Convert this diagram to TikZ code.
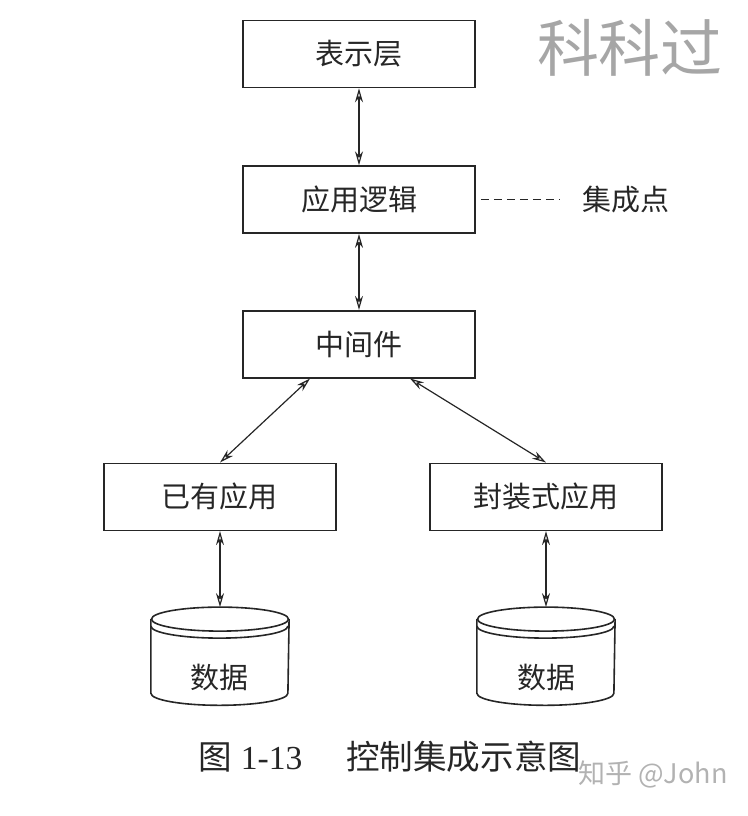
\documentclass[tikz,border=0pt]{standalone}
\usepackage{fontspec}
\setmainfont{Liberation Serif}
\newfontfamily\cjk{Noto Sans CJK SC}
\usetikzlibrary{positioning,arrows.meta}
\begin{document}
\begin{tikzpicture}[
>={Stealth[open,length=7pt,width=4pt]}, line width=0.6pt, black!85,
layer/.style={draw,line width=0.8pt,minimum width=116pt,minimum height=33.5pt,inner sep=0pt,font=\cjk\fontsize{14.5pt}{17pt}\selectfont},
db/.style={minimum width=68.5pt,minimum height=48.5pt,inner sep=0pt,text height=32pt,text depth=0pt,font=\cjk\fontsize{14.5pt}{17pt}\selectfont},
cyl/.style={line width=0.8pt},
link/.style={<->},
note/.style={inner sep=1pt,font=\cjk\fontsize{14.5pt}{17pt}\selectfont}]
\useasboundingbox (0,0) rectangle (374pt,-408pt);
%presentation
  \node[layer] (pres) at (179.5pt,-27pt) {表示层};
%logic
  \node[layer] (logic) [below=38.5pt of pres] {应用逻辑};
  \node[note] (ip) [right=52pt of logic] {集成点};
%middleware
  \node[layer] (mid) [below=38pt of logic] {中间件};
%apps
  \node[layer] (legacy) [below=42pt of mid,xshift=-69.5pt] {已有应用};
  \node[layer] (wrapped) [below=42pt of mid,xshift=93.5pt] {封装式应用};
%data
  \node[db] (data1) [below=38pt of legacy] {数据};
  \node[db] (data2) [below=38pt of wrapped] {数据};
  \foreach \d in {data1,data2}{
    \draw[cyl] ([yshift=-6pt]\d.north) ellipse [x radius=34.25pt,y radius=6pt];
    \draw[cyl] ([yshift=-6pt]\d.north west) -- ([yshift=6pt]\d.south west)
      arc [start angle=180,end angle=360,x radius=34.25pt,y radius=6pt]
      -- ([yshift=-6pt]\d.north east);
    \draw[cyl] ([yshift=-9.5pt]\d.north west)
      arc [start angle=180,end angle=360,x radius=34.25pt,y radius=6pt];
  }
%links
  \draw[link] (pres) -- (logic);
  \draw[link] (logic) -- (mid);
  \draw[link] ([xshift=-24.5pt]mid.south) -- (legacy.north);
  \draw[link] ([xshift=25.5pt]mid.south) -- (wrapped.north);
  \draw[link] (legacy) -- (data1);
  \draw[link] (wrapped) -- (data2);
  \draw[dash pattern=on 4pt off 2.5pt] ([xshift=2.5pt]logic.east) -- ([xshift=-10pt]ip.west);
%caption
  \node[font=\fontsize{16.8pt}{19pt}\selectfont] (cap) at (195pt,-378.5pt)
    {{\cjk 图} 1-13\hspace{1.3em}{\cjk 控制集成示意图}};
%marks
  \node[font=\cjk\fontsize{31pt}{34pt}\selectfont,text=black!35] (wm) at (315pt,-24pt) {科科过};
  \node[font=\cjk\fontsize{13.5pt}{16pt}\selectfont,text=black!30] (zh) at (326.5pt,-387pt) {知乎 @John};
\end{tikzpicture}
\end{document}
